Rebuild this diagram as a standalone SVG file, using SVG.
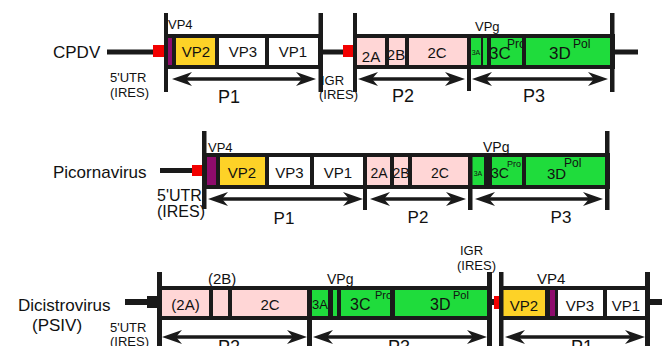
<svg xmlns="http://www.w3.org/2000/svg" width="664" height="346" viewBox="0 0 664 346">
<style>
text{font-family:"Liberation Sans",Arial,sans-serif;fill:#111}
.k{fill:#1a1a1a}
.pk{fill:#ffd6d6}
.gr{fill:#1fdc3c}
.ye{fill:#fdd227}
.pu{fill:#8e0b6c}
.wh{fill:#fff}
.rd{fill:#f20000}
.c{text-anchor:middle}
.arr{stroke:#1a1a1a;stroke-width:3.5;fill:none;marker-start:url(#ah);marker-end:url(#ah)}
</style>
<defs>
<marker id="ah" viewBox="0 0 20 14" markerWidth="20" markerHeight="14" refX="8" refY="7" markerUnits="userSpaceOnUse" orient="auto-start-reverse">
<path d="M20,7 L0,0 L6,7 L0,14 Z" fill="#1a1a1a"/>
</marker>
</defs>

<!-- ROW 1 : CPDV -->
<g id="cpdv">
<text x="53" y="58" font-size="17">CPDV</text>
<rect class="k" x="107" y="49.5" width="48" height="5"/>
<rect class="rd" x="153" y="45" width="12" height="12"/>
<text x="110" y="82" font-size="13">5'UTR</text>
<text x="110" y="97" font-size="13">(IRES)</text>
<text x="168" y="29" font-size="13">VP4</text>
<rect class="k" x="164" y="34" width="159" height="35"/>
<g id="cpdv-vp4"><rect class="pu" x="168" y="38" width="4" height="27"/></g>
<g id="cpdv-vp2"><rect class="ye" x="176" y="38" width="39" height="27"/><text class="c" x="196" y="57" font-size="15">VP2</text></g>
<g id="cpdv-vp3"><rect class="wh" x="219" y="38" width="46" height="27"/><text class="c" x="243" y="57" font-size="15">VP3</text></g>
<g id="cpdv-vp1"><rect class="wh" x="269" y="38" width="49" height="27"/><text class="c" x="293" y="57" font-size="15">VP1</text></g>
<rect class="k" x="164" y="13" width="4" height="79"/>
<rect class="k" x="318.5" y="13" width="4.5" height="79"/>
<rect class="k" x="323" y="49.5" width="32" height="5"/>
<rect class="rd" x="343" y="45" width="12" height="12"/>
<text x="321" y="85" font-size="13">IGR</text>
<text x="319" y="99" font-size="13">(IRES)</text>
<rect class="k" x="353" y="34" width="262" height="35"/>
<g id="cpdv-2a"><rect class="pk" x="357" y="38" width="28" height="27"/><text class="c" x="371" y="62" font-size="15">2A</text></g>
<g id="cpdv-2b"><rect class="pk" x="389" y="38" width="16" height="27"/><text class="c" x="396" y="60" font-size="15">2B</text></g>
<g id="cpdv-2c"><rect class="pk" x="409" y="38" width="58" height="27"/><text class="c" x="437" y="58" font-size="15">2C</text></g>
<g id="cpdv-3a"><rect class="gr" x="471" y="38" width="10" height="27"/><text class="c" x="476" y="55" font-size="7">3A</text></g>
<g id="cpdv-vpg"><rect class="gr" x="483" y="38" width="4" height="27"/><text x="475" y="31" font-size="13">VPg</text></g>
<g id="cpdv-3c"><rect class="gr" x="491" y="38" width="31" height="27"/><text x="489" y="59" font-size="17">3C</text><text x="507" y="48" font-size="12">Pro</text></g>
<g id="cpdv-3d"><rect class="gr" x="526" y="38" width="84" height="27"/><text x="549" y="59" font-size="17">3D</text><text x="573" y="48" font-size="12">Pol</text></g>
<rect class="k" x="385" y="38" width="4" height="27"/>
<rect class="k" x="405" y="38" width="4" height="27"/>
<rect class="k" x="481" y="38" width="2" height="27"/>
<rect class="k" x="487" y="38" width="4" height="27"/>
<rect class="k" x="522" y="38" width="4" height="27"/>
<rect class="k" x="353" y="13" width="4" height="79"/>
<rect class="k" x="467" y="34" width="4" height="57"/>
<rect class="k" x="610" y="13" width="4.5" height="79"/>
<rect class="k" x="614" y="49.5" width="24" height="5"/>
</g>

<!-- ROW 2 : Picornavirus -->
<g id="picorna">
<text x="53" y="178" font-size="17">Picornavirus</text>
<rect class="k" x="160" y="168" width="33" height="5"/>
<rect class="rd" x="192" y="165" width="11" height="11"/>
<text x="157" y="201" font-size="16">5'UTR</text>
<text x="157" y="217" font-size="16">(IRES)</text>
<text x="208" y="152" font-size="13">VP4</text>
<rect class="k" x="202" y="153" width="408" height="36"/>
<g id="pic-vp4"><rect class="pu" x="207" y="157" width="9" height="28"/></g>
<g id="pic-vp2"><rect class="ye" x="220" y="157" width="45" height="28"/><text class="c" x="242" y="178" font-size="15">VP2</text></g>
<g id="pic-vp3"><rect class="wh" x="269" y="157" width="41" height="28"/><text class="c" x="289.5" y="178" font-size="15">VP3</text></g>
<g id="pic-vp1"><rect class="wh" x="314" y="157" width="49" height="28"/><text class="c" x="338" y="178" font-size="15">VP1</text></g>
<g id="pic-2a"><rect class="pk" x="367" y="157" width="23" height="28"/><text class="c" x="379" y="178" font-size="14">2A</text></g>
<g id="pic-2b"><rect class="pk" x="394" y="157" width="14" height="28"/><text class="c" x="401" y="178" font-size="14">2B</text></g>
<g id="pic-2c"><rect class="pk" x="412" y="157" width="56" height="28"/><text class="c" x="440" y="178" font-size="14">2C</text></g>
<g id="pic-3a"><rect class="gr" x="472" y="157" width="12" height="28"/><text class="c" x="478" y="176" font-size="7">3A</text></g>
<text x="483" y="152" font-size="14">VPg</text>
<g id="pic-3c"><rect class="gr" x="492" y="157" width="30" height="28"/><text x="491" y="178" font-size="14">3C</text><text x="507" y="167" font-size="9">Pro</text></g>
<g id="pic-3d"><rect class="gr" x="526" y="157" width="79" height="28"/><text x="547" y="179" font-size="15">3D</text><text x="564" y="167" font-size="12">Pol</text></g>
<rect class="k" x="216" y="157" width="4" height="28"/>
<rect class="k" x="265" y="157" width="4" height="28"/>
<rect class="k" x="310" y="157" width="4" height="28"/>
<rect class="k" x="390" y="157" width="4" height="28"/>
<rect class="k" x="408" y="157" width="4" height="28"/>
<rect class="k" x="484" y="157" width="8" height="28"/>
<rect class="k" x="522" y="157" width="4" height="28"/>
<rect class="k" x="202" y="131" width="4.5" height="78"/>
<rect class="k" x="363" y="153" width="4" height="57"/>
<rect class="k" x="468" y="153" width="4.5" height="57"/>
<rect class="k" x="605" y="131" width="4.5" height="79"/>
</g>

<!-- ROW 3 : Dicistrovirus -->
<g id="dicistro">
<text x="18" y="311" font-size="17">Dicistrovirus</text>
<text x="32" y="331" font-size="17">(PSIV)</text>
<rect class="k" x="125" y="299" width="23" height="6"/>
<rect class="k" x="147" y="296" width="11" height="12"/>
<text x="110" y="332" font-size="13">5'UTR</text>
<text x="110" y="346" font-size="13">(IRES)</text>
<text x="208" y="284" font-size="15">(2B)</text>
<rect class="k" x="157" y="286" width="335" height="34"/>
<g id="dic-2a"><rect class="pk" x="162" y="290" width="47" height="26"/><text class="c" x="185.5" y="310" font-size="15">(2A)</text></g>
<g id="dic-2b"><rect class="pk" x="213" y="290" width="15" height="26"/></g>
<g id="dic-2c"><rect class="pk" x="232" y="290" width="75" height="26"/><text class="c" x="270" y="310" font-size="15">2C</text></g>
<g id="dic-3a"><rect class="gr" x="312" y="290" width="16" height="26"/><text class="c" x="320" y="309" font-size="13">3A</text></g>
<g id="dic-vpg"><rect class="gr" x="333" y="290" width="4" height="26"/><text x="327" y="284" font-size="14">VPg</text></g>
<g id="dic-3c"><rect class="gr" x="341" y="290" width="49" height="26"/><text x="350" y="310" font-size="16">3C</text><text x="375" y="299" font-size="11">Pro</text></g>
<g id="dic-3d"><rect class="gr" x="395" y="290" width="92" height="26"/><text x="430" y="310" font-size="16">3D</text><text x="453" y="299" font-size="11">Pol</text></g>
<rect class="k" x="209" y="290" width="4" height="26"/>
<rect class="k" x="228" y="290" width="4" height="26"/>
<rect class="k" x="328" y="290" width="5" height="26"/>
<rect class="k" x="337" y="290" width="4" height="26"/>
<rect class="k" x="390" y="290" width="5" height="26"/>
<rect class="k" x="157" y="272" width="5" height="74"/>
<rect class="k" x="307" y="286" width="5" height="60"/>
<rect class="k" x="487" y="272" width="5" height="74"/>
<rect class="k" x="492" y="299" width="7" height="6"/>
<rect class="rd" x="494" y="296" width="5" height="13"/>
<text x="460" y="255" font-size="13">IGR</text>
<text x="457" y="270" font-size="13">(IRES)</text>
<text x="537" y="284" font-size="15">VP4</text>
<rect class="k" x="499" y="286" width="151" height="34"/>
<g id="dic-vp2"><rect class="ye" x="503" y="290" width="42" height="26"/><text class="c" x="524" y="311" font-size="15">VP2</text></g>
<g id="dic-vp4"><rect class="pu" x="550" y="290" width="5" height="26"/></g>
<g id="dic-vp3"><rect class="wh" x="558" y="290" width="45" height="26"/><text class="c" x="580" y="311" font-size="15">VP3</text></g>
<g id="dic-vp1"><rect class="wh" x="607" y="290" width="38" height="26"/><text class="c" x="626" y="311" font-size="15">VP1</text></g>
<rect class="k" x="499" y="272" width="4.5" height="74"/>
<rect class="k" x="645" y="272" width="5" height="74"/>
<rect class="k" x="650" y="299" width="12" height="6"/>
</g>

<!-- connectors: polyprotein spans -->
<g id="connectors">
<line class="arr" x1="184" y1="79" x2="304" y2="79"/>
<line class="arr" x1="370" y1="79" x2="453" y2="79"/>
<line class="arr" x1="484" y1="79" x2="596" y2="79"/>
<line class="arr" x1="220" y1="199" x2="351" y2="199"/>
<line class="arr" x1="382" y1="199" x2="454" y2="199"/>
<line class="arr" x1="487" y1="199" x2="591" y2="199"/>
<line class="arr" x1="174" y1="337" x2="295" y2="337"/>
<line class="arr" x1="325" y1="337" x2="475" y2="337"/>
<line class="arr" x1="517" y1="337" x2="633" y2="337"/>
</g>
<g id="labels">
<text class="c" x="229" y="103" font-size="18">P1</text>
<text class="c" x="403" y="102" font-size="18">P2</text>
<text class="c" x="534" y="102" font-size="18">P3</text>
<text class="c" x="284" y="224" font-size="17">P1</text>
<text class="c" x="418" y="223" font-size="17">P2</text>
<text class="c" x="561" y="223" font-size="17">P3</text>
<text class="c" x="229" y="353" font-size="18">P2</text>
<text class="c" x="399" y="353" font-size="18">P3</text>
<text class="c" x="582" y="353" font-size="18">P1</text>
</g>
</svg>
